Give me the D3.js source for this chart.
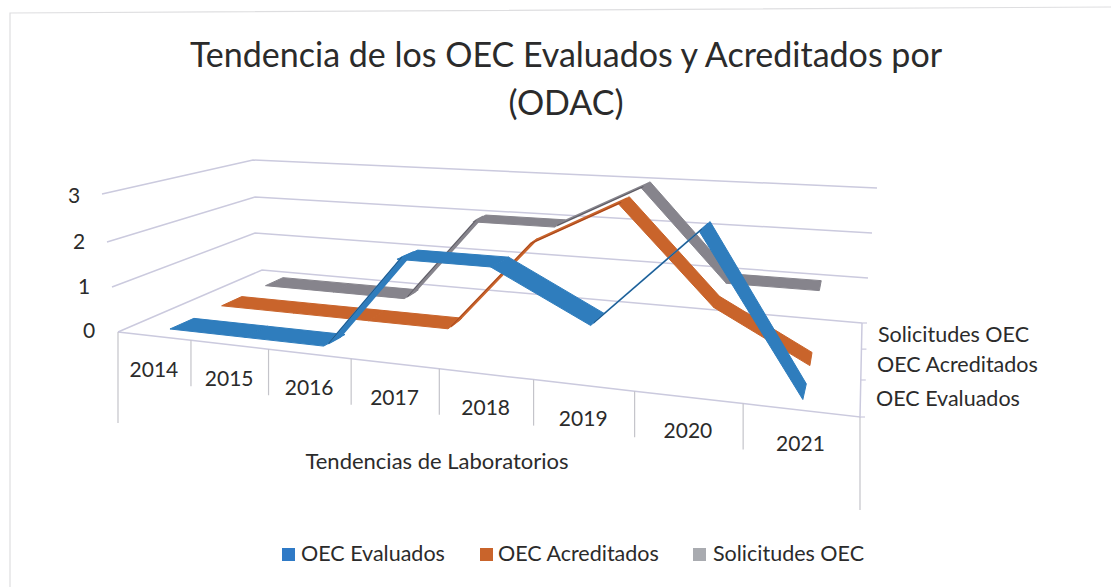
<!DOCTYPE html>
<html>
<head>
<meta charset="utf-8">
<script src="https://cdn.jsdelivr.net/npm/d3@7"></script>
<style>
    html, body { margin: 0; padding: 0; background: #fff; }
    svg { display: block; }
    text { font-family: Lato, "Open Sans", sans-serif; fill: #2b2b2b; }
</style>
</head>
<body>
<svg id="chart" width="1111" height="587"></svg>
<script>
const years = ["2014", "2015", "2016", "2017", "2018", "2019", "2020", "2021"];
const seriesNames = ["OEC Evaluados", "OEC Acreditados", "Solicitudes OEC"];
const evaluados = [0, 0, 0, 2, 2, 1, 3, 0];
const acreditados = [0, 0, 0, 0, 2, 3, 1, 0];
const solicitudes = [0, 0, 0, 2, 2, 3, 1, 1];
const valueTicks = [0, 1, 2, 3];
const seriesValues = [evaluados, acreditados, solicitudes];
const seriesColors = ["#2f7dbd", "#c9642b", "#86848c"];
const seriesEdges = ["#1c3d5e", "#8a2f12", "#3c3b42"];
const legendColors = ["#2f7ac6", "#c9642b", "#a9abb0"];

const svg = d3.select("#chart");

// corners of the box at each value level
const cornerFL = { x: d3.scaleLinear().domain(valueTicks).range([118, 112, 107, 102]), y: d3.scaleLinear().domain(valueTicks).range([332, 287, 242, 194]) };
const cornerBL = { x: d3.scaleLinear().domain(valueTicks).range([262, 255, 255, 253]), y: d3.scaleLinear().domain(valueTicks).range([270, 233, 197, 160]) };
const cornerBR = { x: d3.scaleLinear().domain(valueTicks).range([862, 868, 872, 877]), y: d3.scaleLinear().domain(valueTicks).range([323, 278, 233, 188]) };
const cornerFR = { x: d3.scaleLinear().domain(valueTicks).range([860, 866, 871, 877]), y: d3.scaleLinear().domain(valueTicks).range([417, 362, 307, 252]) };

const xBand = d3.scaleBand().domain(years).range([0, 1]);
const zBand = d3.scaleBand().domain(seriesNames).range([0, 1]);

// unit square -> quad, so the spacing shrinks towards the back
function project(u0, z, value) {
    // original chart is less squeezed high up, and a bit more at the front edge
    const front = Math.max(0, 1 - 3 * z);
    const u = u0 + 0.024 * value * value * u0 * u0 * (1 - u0) - 0.038 * front * u0 * (1 - u0);
    const p0 = [cornerFL.x(value), cornerFL.y(value)];
    const p1 = [cornerFR.x(value), cornerFR.y(value)];
    const p2 = [cornerBR.x(value), cornerBR.y(value)];
    const p3 = [cornerBL.x(value), cornerBL.y(value)];
    const dx1 = p1[0] - p2[0], dx2 = p3[0] - p2[0], sx = p0[0] - p1[0] + p2[0] - p3[0];
    const dy1 = p1[1] - p2[1], dy2 = p3[1] - p2[1], sy = p0[1] - p1[1] + p2[1] - p3[1];
    const det = dx1 * dy2 - dx2 * dy1;
    const g = (sx * dy2 - dx2 * sy) / det;
    const h = (dx1 * sy - sx * dy1) / det;
    const a = p1[0] - p0[0] + g * p1[0], b = p3[0] - p0[0] + h * p3[0];
    const d = p1[1] - p0[1] + g * p1[1], e = p3[1] - p0[1] + h * p3[1];
    const w = g * u + h * z + 1;
    return [(a * u + b * z + p0[0]) / w, (d * u + e * z + p0[1]) / w];
}

const line3d = d3.line().x(d => d[0]).y(d => d[1]);
const gridColor = "#cbcade";

// scan edge of the page
svg.append("path")
    .attr("d", "M10,587V13L1111,7")
    .attr("fill", "none")
    .attr("stroke", "#dedee0")
    .attr("stroke-width", 1.2);

// grid lines on side wall and back wall
valueTicks.forEach(v => {
    svg.append("path")
        .attr("d", line3d([project(0, 0, v), project(0, 1, v), project(1, 1, v)]))
        .attr("fill", "none")
        .attr("stroke", gridColor)
        .attr("stroke-width", 1.5);
});

// front edge of the floor, right side edge
svg.append("path")
    .attr("d", line3d(d3.range(0, 1.01, 0.125).map(u => project(u, 0, 0)).concat([project(1, 1, 0)])))
    .attr("fill", "none")
    .attr("stroke", gridColor)
    .attr("stroke-width", 1.5);

// category separators hanging from the front edge
const edges = d3.range(years.length + 1).map(i => i / years.length);
svg.selectAll(".sep")
    .data(edges)
    .enter()
    .append("line")
    .attr("class", "sep")
    .attr("x1", d => project(d, 0, 0)[0])
    .attr("y1", d => project(d, 0, 0)[1])
    .attr("x2", d => project(d, 0, 0)[0])
    .attr("y2", (d, i) => project(d, 0, 0)[1] + (i === 0 ? 91 : i === years.length ? 93 : 46))
    .attr("stroke", "#c4c4ca")
    .attr("stroke-width", 1.2);

// ticks on the right side edge
d3.range(seriesNames.length + 1).forEach(i => {
    const p = project(1, i / seriesNames.length, 0);
    svg.append("line")
        .attr("x1", p[0]).attr("y1", p[1])
        .attr("x2", p[0] + 5).attr("y2", p[1])
        .attr("stroke", gridColor)
        .attr("stroke-width", 1.2);
});

// ribbons, back series first. Rising pieces are seen almost edge on
const ribbon = 0.44;
d3.range(seriesNames.length - 1, -1, -1).forEach(si => {
    const name = seriesNames[si];
    const values = seriesValues[si];
    const zMid = zBand(name) + zBand.bandwidth() / 2;
    const zAt = (seg, side) => {
        const rising = seg[1].v > seg[0].v;
        return zMid + side * zBand.bandwidth() * ribbon / 2 * (rising ? 0.55 : 1);
    };
    const points = years.map((year, i) => ({ u: xBand(year) + xBand.bandwidth() / 2, v: values[i] }));
    const segments = d3.pairs(points);
    const g = svg.append("g");
    g.selectAll("path.band")
        .data(segments)
        .enter()
        .append("path")
        .attr("class", "band")
        .attr("d", seg => line3d([
            project(seg[0].u, zAt(seg, -1), seg[0].v),
            project(seg[1].u, zAt(seg, -1), seg[1].v),
            project(seg[1].u, zAt(seg, 1), seg[1].v),
            project(seg[0].u, zAt(seg, 1), seg[0].v)
        ]) + "Z")
        .attr("fill", seriesColors[si])
        .attr("stroke", seriesColors[si])
        .attr("stroke-width", seg => seg[1].v > seg[0].v ? 1.6 : 1)
        .attr("stroke-linejoin", "round");
    // dark underside on the rising pieces
    g.selectAll("path.edge")
        .data(segments.filter(seg => seg[1].v > seg[0].v))
        .enter()
        .append("path")
        .attr("class", "edge")
        .attr("d", seg => line3d([project(seg[0].u, zAt(seg, -1), seg[0].v), project(seg[1].u, zAt(seg, -1), seg[1].v)]))
        .attr("fill", "none")
        .attr("stroke", seriesEdges[si])
        .attr("stroke-opacity", 0.6)
        .attr("stroke-width", 1);
});

// title
svg.append("text")
    .attr("x", 566).attr("y", 67)
    .attr("text-anchor", "middle")
    .attr("font-size", 34)
    .text("Tendencia de los OEC Evaluados y Acreditados por");
svg.append("text")
    .attr("x", 566).attr("y", 115)
    .attr("text-anchor", "middle")
    .attr("font-size", 34)
    .text("(ODAC)");

// value labels
const tickLabelX = [89, 84, 79, 74];
const tickLabelY = [338, 294, 249, 203];
svg.selectAll(".tick-label")
    .data(valueTicks)
    .enter()
    .append("text")
    .attr("class", "tick-label")
    .attr("x", d => tickLabelX[d])
    .attr("y", d => tickLabelY[d])
    .attr("text-anchor", "middle")
    .attr("font-size", 21)
    .text(d => d);

// year labels
svg.selectAll(".year-label")
    .data(years)
    .enter()
    .append("text")
    .attr("class", "year-label")
    .attr("x", d => project(xBand(d) + xBand.bandwidth() / 2, 0, 0)[0])
    .attr("y", d => project(xBand(d) + xBand.bandwidth() / 2, 0, 0)[1] + 41)
    .attr("text-anchor", "middle")
    .attr("font-size", 21)
    .text(d => d);

// series labels on the right
const depthLabels = [["Solicitudes OEC", 878, 342], ["OEC Acreditados", 877, 372], ["OEC Evaluados", 876, 406]];
svg.selectAll(".depth-label")
    .data(depthLabels)
    .enter()
    .append("text")
    .attr("class", "depth-label")
    .attr("x", d => d[1])
    .attr("y", d => d[2])
    .attr("font-size", 21.5)
    .text(d => d[0]);

svg.append("text")
    .attr("x", 437).attr("y", 469)
    .attr("text-anchor", "middle")
    .attr("font-size", 22)
    .text("Tendencias de Laboratorios");

// legend
const legendX = [282, 480, 693];
const legendTextX = [301, 498, 713];
seriesNames.forEach((name, i) => {
    svg.append("rect")
        .attr("x", legendX[i]).attr("y", 548)
        .attr("width", 13).attr("height", 13)
        .attr("fill", legendColors[i]);
    svg.append("text")
        .attr("x", legendTextX[i]).attr("y", 561)
        .attr("font-size", 21.5)
        .text(name);
});
</script>
</body>
</html>
